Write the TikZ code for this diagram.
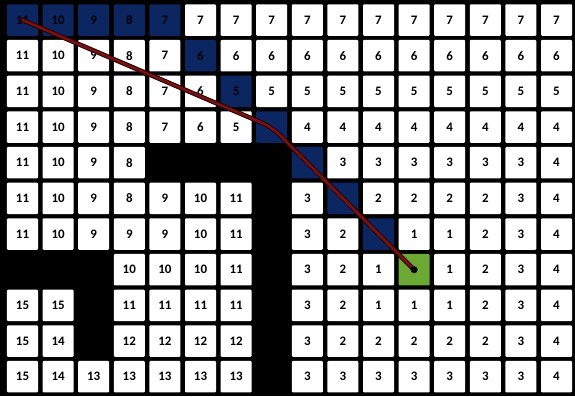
\documentclass[tikz,border=0pt]{standalone}
\usepackage{fontspec}
\setmainfont{Carlito}
\definecolor{col1}{RGB}{255,255,255}
\definecolor{col2}{RGB}{12,38,98}
\definecolor{col3}{RGB}{108,168,52}
\definecolor{col4}{RGB}{12,38,98}
\definecolor{pathred}{RGB}{120,18,18}
\begin{document}
\begin{tikzpicture}[x=1bp,y=-1bp,
  cellbox/.style={minimum width=31bp,minimum height=31.5bp,inner sep=0pt,
    rounded corners=1bp,text=black,font=\fontsize{13}{13}\selectfont\bfseries},
  pathouter/.style={line width=4.6bp,black!85!red,rounded corners=10bp,line cap=round},
  pathinner/.style={line width=2.6bp,pathred,rounded corners=10bp,line cap=round},
  enddotstyle/.style={circle,fill=black,inner sep=0pt,minimum size=7bp}]
\fill[black] (0,0) rectangle (575,396);
\useasboundingbox (0,0) rectangle (575,396);
\foreach \vals [count=\r from 0] in {
 {2/11,2/10,2/9,2/8,2/7,1/7,1/7,1/7,1/7,1/7,1/7,1/7,1/7,1/7,1/7,1/7},
 {1/11,1/10,1/9,1/8,1/7,2/6,1/6,1/6,1/6,1/6,1/6,1/6,1/6,1/6,1/6,1/6},
 {1/11,1/10,1/9,1/8,1/7,1/6,2/5,1/5,1/5,1/5,1/5,1/5,1/5,1/5,1/5,1/5},
 {1/11,1/10,1/9,1/8,1/7,1/6,1/5,4/0,1/4,1/4,1/4,1/4,1/4,1/4,1/4,1/4},
 {1/11,1/10,1/9,1/8,0/0,0/0,0/0,0/0,4/0,1/3,1/3,1/3,1/3,1/3,1/3,1/4},
 {1/11,1/10,1/9,1/8,1/9,1/10,1/11,0/0,1/3,4/0,1/2,1/2,1/2,1/2,1/3,1/4},
 {1/11,1/10,1/9,1/9,1/9,1/10,1/11,0/0,1/3,1/2,4/0,1/1,1/1,1/2,1/3,1/4},
 {0/0,0/0,0/0,1/10,1/10,1/10,1/11,0/0,1/3,1/2,1/1,3/0,1/1,1/2,1/3,1/4},
 {1/15,1/15,0/0,1/11,1/11,1/11,1/11,0/0,1/3,1/2,1/1,1/1,1/1,1/2,1/3,1/4},
 {1/15,1/14,0/0,1/12,1/12,1/12,1/12,0/0,1/3,1/2,1/2,1/2,1/2,1/2,1/3,1/4},
 {1/15,1/14,1/13,1/13,1/13,1/13,1/13,0/0,1/3,1/3,1/3,1/3,1/3,1/3,1/3,1/4}} {
  \foreach \kd/\tx [count=\c from 0] in \vals {
    \ifnum\kd=0\relax\else
      \node[cellbox,fill=col\kd] (c-\r-\c) at ({22.5+35.6*\c},{20+35.67*\r})
        {\ifnum\kd>2\relax\else\tx\fi};
    \fi
  }
}
\draw[pathouter] (c-0-0.center) -- (c-3-7.center) -- (c-7-11.center);
\draw[pathinner] (c-0-0.center) -- (c-3-7.center) -- (c-7-11.center);
\node[enddotstyle] (enddot) at (c-7-11.center) {};
\end{tikzpicture}
\end{document}
